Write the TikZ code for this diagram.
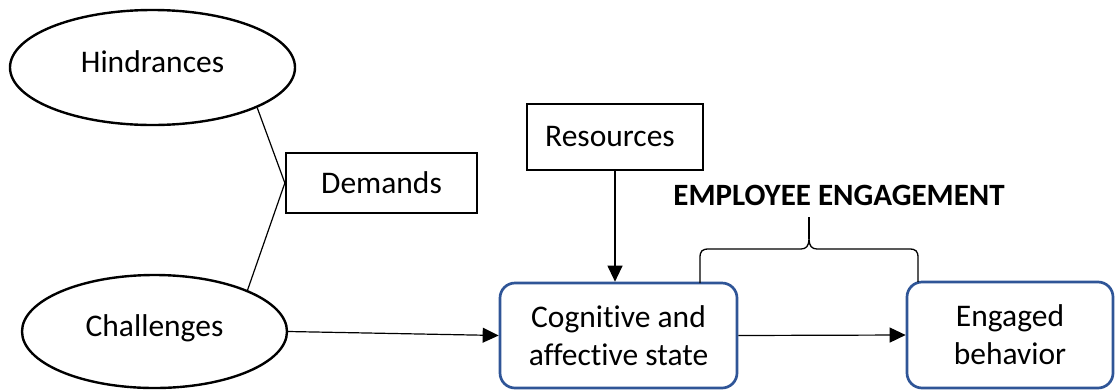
\documentclass[tikz,border=0pt]{standalone}
\usepackage{fontspec}
\setmainfont{Carlito}[Ligatures=NoCommon]
\usetikzlibrary{arrows.meta,shapes.geometric}
\definecolor{boxblue}{RGB}{47,85,151}
\begin{document}
\begin{tikzpicture}[x=1pt,y=-1pt,
  every node/.style={font=\fontsize{31.5}{38}\selectfont, inner sep=0pt},
  oval/.style={ellipse, draw, line width=2.4pt, text depth=12pt},
  plainbox/.style={rectangle, draw, line width=2.3pt},
  statebox/.style={rectangle, draw=boxblue, line width=2.7pt, rounded corners=15pt, align=center},
  link/.style={line width=1.2pt},
  flow/.style={line width=1.2pt, -{Triangle[length=16pt,width=15pt]}},
  bracket/.style={line width=1.3pt}
]
\useasboundingbox (0,0) rectangle (1115,389);

% factors on the left
\node[oval, minimum width=285pt, minimum height=115pt] (hind) at (152.5,67.5) {Hindrances};
\node[oval, minimum width=265pt, minimum height=113pt] (chal) at (154.5,331.5) {Challenges};
\node[plainbox, minimum width=191pt, minimum height=60.5pt] (dem) at (381.5,183) {Demands};
\node[plainbox, minimum width=176pt, minimum height=66pt] (res) at (615,137) {\hspace*{-10pt}Resources};

% engagement states
\node[statebox, minimum width=237pt, minimum height=105pt] (cog) at (618.5,335.5) {Cognitive and\\affective state};
\node[statebox, minimum width=206pt, minimum height=106pt] (eng) at (1010,335) {Engaged\\behavior};

\node[font=\fontsize{31}{38}\selectfont\bfseries] (title) at (839,195) {EMPLOYEE ENGAGEMENT};

% connectors
\draw[link] (hind.-21.5) -- (dem.west);
\draw[link] (chal.24.3) -- (dem.west);
\draw[flow] (chal.east) -- (cog.west);
\draw[flow] (res.south) -- (cog.north -| res.south);
\draw[flow] (cog.east) -- (eng.west);

% brace spanning both states
\coordinate (bl) at (700,283);
\coordinate (br) at (918,282);
\coordinate (tip) at (809,217);
\draw[bracket] (bl) -- (700,258) .. controls (700,251) and (702,249) .. (709,249)
  -- (801,249) .. controls (806,249) and (809,246) .. (809,239)
  .. controls (809,246) and (812,249) .. (817,249)
  -- (909,249) .. controls (916,249) and (918,251) .. (918,258) -- (br);
\draw[bracket] (809,239) -- (tip);
\end{tikzpicture}
\end{document}
